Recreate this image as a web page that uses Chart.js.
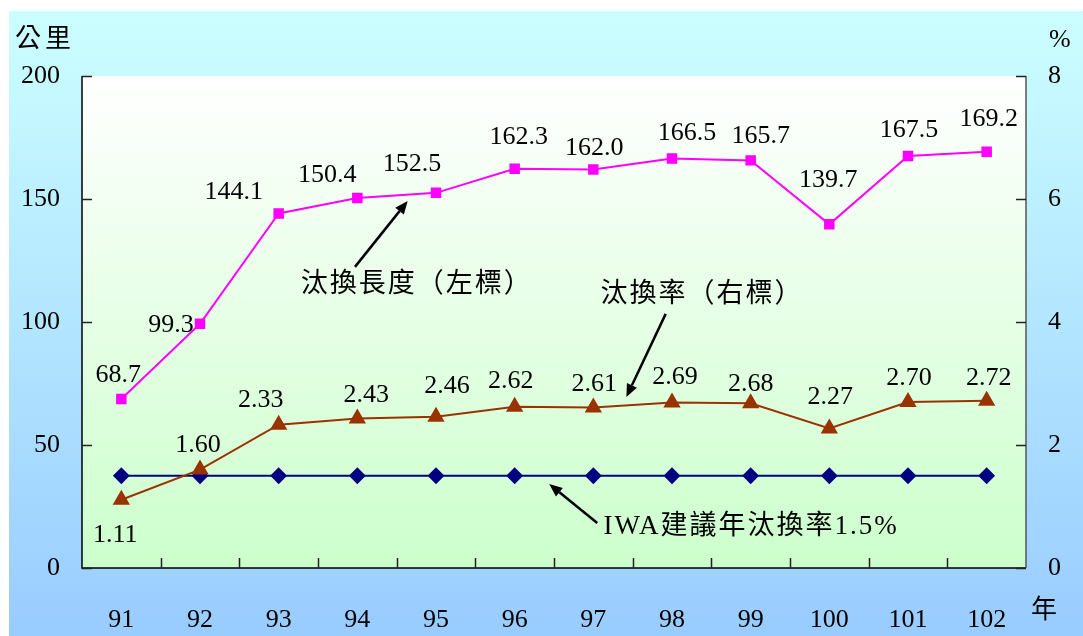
<!DOCTYPE html>
<html>
<head>
<meta charset="utf-8">
<script src="https://cdn.jsdelivr.net/npm/chart.js@4.4.0/dist/chart.umd.min.js"></script>
<style>
  html, body { margin: 0; padding: 0; background: #ffffff; }
  canvas { display: block; }
</style>
</head>
<body>
<canvas id="chart" width="1083" height="636"></canvas>
<script>
// 年度 (民國)
const years = ['91', '92', '93', '94', '95', '96', '97', '98', '99', '100', '101', '102'];
// 汰換長度 (公里, 左標)
const replacedLength = [68.7, 99.3, 144.1, 150.4, 152.5, 162.3, 162.0, 166.5, 165.7, 139.7, 167.5, 169.2];
// 汰換率 (%, 右標)
const replacementRate = [1.11, 1.60, 2.33, 2.43, 2.46, 2.62, 2.61, 2.69, 2.68, 2.27, 2.70, 2.72];
// IWA 建議年汰換率 (%)
const iwaRate = [1.5, 1.5, 1.5, 1.5, 1.5, 1.5, 1.5, 1.5, 1.5, 1.5, 1.5, 1.5];
// 軸刻度
const leftTicks = [0, 50, 100, 150, 200];
const rightTicks = [0, 2, 4, 6, 8];

const SERIF = "'Liberation Serif', 'Times New Roman', serif";
const MIXED = "'Liberation Serif', 'Noto Sans CJK TC', 'Noto Sans CJK SC', serif";

// value-label placement (text centre relative to the point, px)
const lengthLabelShift = [[-3,-24],[-29,1],[-45,-21],[-30,-23],[-24,-29],[4,-32],[1,-21],[15,-25],[10,-24],[-1,-44],[1,-26],[2,-33]];
const rateLabelShift = [[-6,35],[-2,-24],[-18,-25],[9,-23],[11,-31],[-4,-26],[1,-23],[3,-25],[0,-19],[1,-31],[1,-24],[2,-23]];

// callouts, in axis coordinates (category index, left-axis value)
const callouts = [
  { text: '汰換長度（左標）', at: [2.28, 115], from: [2.97, 122.4], to: [3.64, 149.2] },
  { text: '汰換率（右標）',   at: [6.09, 111], from: [6.92, 103.3], to: [6.42, 69.5] },
  { text: 'IWA建議年汰換率1.5%', at: [6.13, 16.7], from: [6.05, 18.3], to: [5.44, 34.1] }
];

const backdrop = {
  id: 'backdrop',
  beforeDraw(chart) {
    const { ctx, chartArea: a } = chart;
    ctx.save();
    ctx.fillStyle = '#ffffff';
    ctx.fillRect(0, 0, chart.width, chart.height);
    const g = ctx.createLinearGradient(0, 11, 0, chart.height);
    g.addColorStop(0, '#ccffff');
    g.addColorStop(1, '#99ccff');
    ctx.fillStyle = g;
    ctx.fillRect(9, 11, chart.width - 9, chart.height - 11);
    const p = ctx.createLinearGradient(0, a.top, 0, a.bottom);
    p.addColorStop(0, '#ffffff');
    p.addColorStop(1, '#ccffcc');
    ctx.fillStyle = p;
    ctx.fillRect(a.left, a.top, a.right - a.left, a.bottom - a.top);
    ctx.restore();
  }
};

const frame = {
  id: 'frame',
  beforeDatasetsDraw(chart) {
    const { ctx, chartArea: a, scales } = chart;
    ctx.save();
    ctx.lineWidth = 1.5;
    // left & bottom axis lines
    ctx.strokeStyle = '#000000';
    ctx.beginPath();
    ctx.moveTo(a.left, a.top);
    ctx.lineTo(a.left, a.bottom);
    ctx.lineTo(a.right, a.bottom);
    ctx.stroke();
    // right axis line
    ctx.strokeStyle = '#555555';
    ctx.beginPath();
    ctx.moveTo(a.right, a.top);
    ctx.lineTo(a.right, a.bottom);
    ctx.stroke();
    // inward tick marks
    ctx.strokeStyle = '#222222';
    ctx.beginPath();
    leftTicks.forEach(v => {
      const y = Math.round(scales.y.getPixelForValue(v)) + 0.5;
      ctx.moveTo(a.left, y); ctx.lineTo(a.left + 10, y);
    });
    rightTicks.forEach(v => {
      const y = Math.round(scales.y1.getPixelForValue(v)) + 0.5;
      ctx.moveTo(a.right, y); ctx.lineTo(a.right - 10, y);
    });
    for (let i = 1; i < years.length; i++) {
      const x = Math.round(scales.x.getPixelForValue(i - 0.5)) + 0.5;
      ctx.moveTo(x, a.bottom); ctx.lineTo(x, a.bottom - 10);
    }
    ctx.stroke();
    ctx.restore();
  }
};

const annotations = {
  id: 'annotations',
  afterDatasetsDraw(chart) {
    const { ctx, scales } = chart;
    const px = (p) => [scales.x.getPixelForValue(p[0]), scales.y.getPixelForValue(p[1])];
    ctx.save();
    ctx.fillStyle = '#000000';
    ctx.textAlign = 'center';
    ctx.textBaseline = 'middle';
    ctx.font = '26px ' + SERIF;
    const drawLabels = (dsIndex, values, shifts, fmt) => {
      const meta = chart.getDatasetMeta(dsIndex);
      meta.data.forEach((pt, i) => {
        ctx.fillText(fmt(values[i]), pt.x + shifts[i][0], pt.y + shifts[i][1]);
      });
    };
    drawLabels(0, replacedLength, lengthLabelShift, v => v.toFixed(1));
    drawLabels(1, replacementRate, rateLabelShift, v => v.toFixed(2));

    // callout text and arrows
    ctx.textAlign = 'left';
    callouts.forEach(c => {
      const [tx, ty] = px(c.at);
      ctx.font = '27px ' + MIXED;
      ctx.letterSpacing = '2px';
      ctx.fillText(c.text, tx, ty);
      ctx.letterSpacing = '0px';
      const [x0, y0] = px(c.from);
      const [x1, y1] = px(c.to);
      const ang = Math.atan2(y1 - y0, x1 - x0);
      const head = 13, half = 5.5;
      const bx = x1 - head * Math.cos(ang), by = y1 - head * Math.sin(ang);
      ctx.strokeStyle = '#000000';
      ctx.lineWidth = 2.5;
      ctx.beginPath();
      ctx.moveTo(x0, y0);
      ctx.lineTo(bx, by);
      ctx.stroke();
      ctx.beginPath();
      ctx.moveTo(x1, y1);
      ctx.lineTo(bx + half * Math.sin(ang), by - half * Math.cos(ang));
      ctx.lineTo(bx - half * Math.sin(ang), by + half * Math.cos(ang));
      ctx.closePath();
      ctx.fill();
    });

    // axis titles
    ctx.font = '26px ' + MIXED;
    ctx.letterSpacing = '4px';
    ctx.fillText('公里', 15, 40);
    ctx.letterSpacing = '0px';
    ctx.fillText('年', 1031, 611);
    ctx.font = '26px ' + SERIF;
    ctx.fillText('%', 1049, 40);
    ctx.restore();
  }
};

new Chart(document.getElementById('chart'), {
  type: 'line',
  data: {
    labels: years,
    datasets: [
      {
        label: '汰換長度（左標）',
        data: replacedLength,
        yAxisID: 'y',
        borderColor: '#ff00ff',
        backgroundColor: '#ff00ff',
        borderWidth: 2,
        pointStyle: 'rect',
        pointRadius: 6,
        pointHoverRadius: 6,
        tension: 0
      },
      {
        label: '汰換率（右標）',
        data: replacementRate,
        yAxisID: 'y1',
        borderColor: '#993300',
        backgroundColor: '#993300',
        borderWidth: 2,
        pointStyle: 'triangle',
        pointRadius: 8,
        pointHoverRadius: 8,
        tension: 0
      },
      {
        label: 'IWA建議年汰換率1.5%',
        data: iwaRate,
        yAxisID: 'y1',
        borderColor: '#000080',
        backgroundColor: '#000080',
        borderWidth: 2,
        pointStyle: 'rectRot',
        pointRadius: 7,
        pointHoverRadius: 7,
        tension: 0
      }
    ]
  },
  options: {
    responsive: false,
    animation: false,
    devicePixelRatio: 1,
    layout: { padding: { top: 76, left: 0, right: 0, bottom: 0 } },
    plugins: {
      legend: { display: false },
      tooltip: { enabled: false }
    },
    scales: {
      x: {
        type: 'category',
        offset: true,
        grid: { display: false, drawTicks: false },
        border: { display: false },
        ticks: { color: '#000', font: { family: SERIF, size: 26 }, padding: 37, maxRotation: 0, autoSkip: false },
        afterFit(scale) { scale.height = 68; }
      },
      y: {
        position: 'left',
        min: 0, max: 200,
        afterBuildTicks(scale) { scale.ticks = leftTicks.map(v => ({ value: v })); },
        grid: { display: false, drawTicks: false },
        border: { display: false },
        ticks: { color: '#000', font: { family: SERIF, size: 26 }, padding: 22 },
        afterFit(scale) { scale.width = 82; }
      },
      y1: {
        position: 'right',
        min: 0, max: 8,
        afterBuildTicks(scale) { scale.ticks = rightTicks.map(v => ({ value: v })); },
        grid: { display: false, drawTicks: false },
        border: { display: false },
        ticks: { color: '#000', font: { family: SERIF, size: 26 }, padding: 22 },
        afterFit(scale) { scale.width = 57; }
      }
    }
  },
  plugins: [backdrop, frame, annotations]
});
</script>
</body>
</html>
